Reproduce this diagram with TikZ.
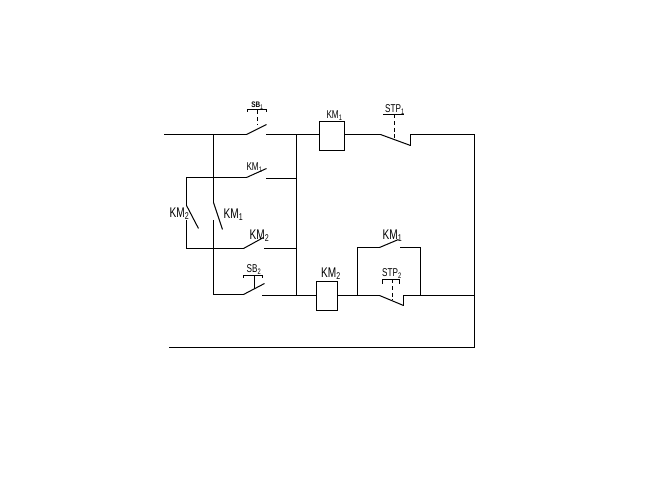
\documentclass[tikz,border=0pt]{standalone}
\usepackage{fontspec}
\usepackage{graphicx}
\setmainfont{Liberation Sans}
\newcommand{\biglbl}[2]{\scalebox{0.72}[1]{\fontsize{10.5}{11}\selectfont #1$_{\mathrm{\scriptstyle #2}}$}}
\newcommand{\midlbl}[2]{\scalebox{0.72}[1]{\fontsize{8.5}{9}\selectfont #1$_{\mathrm{\scriptstyle #2}}$}}
\newcommand{\smalllbl}[2]{\scalebox{0.8}[1]{\fontsize{6}{7}\selectfont\bfseries #1$_{\mathrm{\scriptstyle #2}}$}}
\tikzset{
  wire/.style={line width=0.75pt,black,line cap=rect,line join=miter},
  blade/.style={line width=0.75pt,black},
  coil/.style={draw=black,line width=0.75pt,fill=white,minimum width=0pt,minimum height=0pt,inner sep=0pt,outer sep=0pt,rectangle},
  tag/.style={inner sep=0pt,outer sep=0pt,text=black},
  push/.style={line width=0.75pt,black,dash pattern=on 3pt off 2pt},
}
\begin{document}
\begin{tikzpicture}[x=0.75pt,y=-0.75pt]
\useasboundingbox[fill=white] (0,0) rectangle (646,484);
\begin{scope}[shift={(0.5,0.5)}]
% coils
\node[coil,minimum width=18.75pt,minimum height=21.75pt] (K1) at (331.5,135.5) {};
\node[coil,minimum width=15.75pt,minimum height=21.75pt] (K2) at (326.5,295.5) {};
% junctions
\coordinate (inL) at (164,134);
\coordinate (a) at (213,134);
\coordinate (b) at (246,134);
\coordinate (bT) at (266,124);
\coordinate (c) at (266,134);
\coordinate (d) at (296,134);
\coordinate (e) at (380,134);
\coordinate (eT) at (410,145);
\coordinate (f) at (410,134);
\coordinate (g) at (474,134);
\coordinate (r2L) at (186,177);
\coordinate (r2a) at (246,177);
\coordinate (r2T) at (266,168);
\coordinate (r2b) at (266,178);
\coordinate (r2c) at (296,178);
\coordinate (l1) at (186,205);
\coordinate (l1T) at (198,228);
\coordinate (l2) at (186,220);
\coordinate (r3L) at (186,248);
\coordinate (r3a) at (243,248);
\coordinate (r3T) at (263,237);
\coordinate (r3b) at (264,248);
\coordinate (r3c) at (296,248);
\coordinate (m1) at (213,202);
\coordinate (m1T) at (222,229);
\coordinate (m2) at (213,220);
\coordinate (r4L) at (213,294);
\coordinate (r4a) at (243,294);
\coordinate (r4T) at (264,283);
\coordinate (r4b) at (262,295);
\coordinate (r4c) at (296,295);
\coordinate (n) at (357,295);
\coordinate (nU) at (357,247);
\coordinate (o) at (379,295);
\coordinate (oT) at (403,305);
\coordinate (p) at (403,295);
\coordinate (q) at (420,295);
\coordinate (qU) at (420,247);
\coordinate (s) at (379,247);
\coordinate (sT) at (398,239);
\coordinate (t) at (400,247);
\coordinate (h) at (474,295);
\coordinate (u) at (474,347);
\coordinate (uL) at (169,347);
% top rung
\draw[wire] (inL) -- (b);
\draw[blade] (b) -- (bT);
\draw[wire] (c) -- (K1.west |- c);
\draw[wire] (K1.east |- e) -- (e);
\draw[blade] (e) -- (eT);
\draw[wire] (eT) -- (f) -- (g) -- (u) -- (uL);
% branches
\draw[wire] (a) -- (m1);
\draw[blade] (m1) -- (m1T);
\draw[wire] (m2) -- (r4L) -- (r4a);
\draw[blade] (r4a) -- (r4T);
\draw[wire] (r4b) -- (K2.west |- r4b);
\draw[wire] (d) -- (r4c);
\draw[wire] (l1) -- (r2L) -- (r2a);
\draw[blade] (r2a) -- (r2T);
\draw[wire] (r2b) -- (r2c);
\draw[blade] (l1) -- (l1T);
\draw[wire] (l2) -- (r3L) -- (r3a);
\draw[blade] (r3a) -- (r3T);
\draw[wire] (r3b) -- (r3c);
% lower rung
\draw[wire] (K2.east |- o) -- (o);
\draw[blade] (o) -- (oT);
\draw[wire] (oT) -- (p) -- (h);
\draw[wire] (n) -- (nU) -- (s);
\draw[blade] (s) -- (sT);
\draw[wire] (t) -- (qU) -- (q);
% push buttons
\coordinate (sb1a) at (247,111);
\coordinate (sb1b) at (247,109);
\coordinate (sb1c) at (266,109);
\coordinate (sb1d) at (266,111);
\coordinate (sb1m) at (257,110);
\coordinate (sb1e) at (257,124);
\draw[wire] (sb1a) -- (sb1b) -- (sb1c) -- (sb1d);
\draw[push] (sb1m) -- (sb1e);
\coordinate (st1a) at (383,114);
\coordinate (st1b) at (403,114);
\coordinate (st1m) at (394,114);
\coordinate (st1e) at (394,140);
\draw[wire] (st1a) -- (st1b);
\draw[push] (st1m) -- (st1e);
\coordinate (st2a) at (382,283);
\coordinate (st2b) at (382,279);
\coordinate (st2c) at (399,279);
\coordinate (st2d) at (399,283);
\coordinate (st2m) at (392,279);
\coordinate (st2e) at (392,300);
\draw[wire] (st2a) -- (st2b) -- (st2c) -- (st2d);
\draw[push] (st2m) -- (st2e);
\coordinate (sb2a) at (243,277);
\coordinate (sb2b) at (243,275);
\coordinate (sb2c) at (262,275);
\coordinate (sb2d) at (262,277);
\coordinate (sb2m) at (254,275);
\coordinate (sb2e) at (254,288);
\draw[wire] (sb2a) -- (sb2b) -- (sb2c) -- (sb2d);
\draw[wire] (sb2m) -- (sb2e);
% labels
\node[tag] (tSB1) at (257,105) {\smalllbl{SB}{1}};
\node[tag] (tKM1a) at (254,167) {\midlbl{KM}{1}};
\node[tag] (tKMl) at (179,213) {\biglbl{KM}{2}};
\node[tag] (tKMr) at (233,214) {\biglbl{KM}{1}};
\node[tag] (tKM2a) at (259,235) {\biglbl{KM}{2}};
\node[tag] (tSB2) at (253.5,269) {\midlbl{SB}{2}};
\node[tag] (tK1) at (334,115) {\midlbl{KM}{1}};
\node[tag] (tST1) at (394.5,109) {\midlbl{STP}{1}};
\node[tag] (tKMt) at (392,235) {\biglbl{KM}{1}};
\node[tag] (tST2) at (391.5,273) {\midlbl{STP}{2}};
\node[tag] (tK2) at (330.5,273) {\biglbl{KM}{2}};
\end{scope}
\end{tikzpicture}
\end{document}
